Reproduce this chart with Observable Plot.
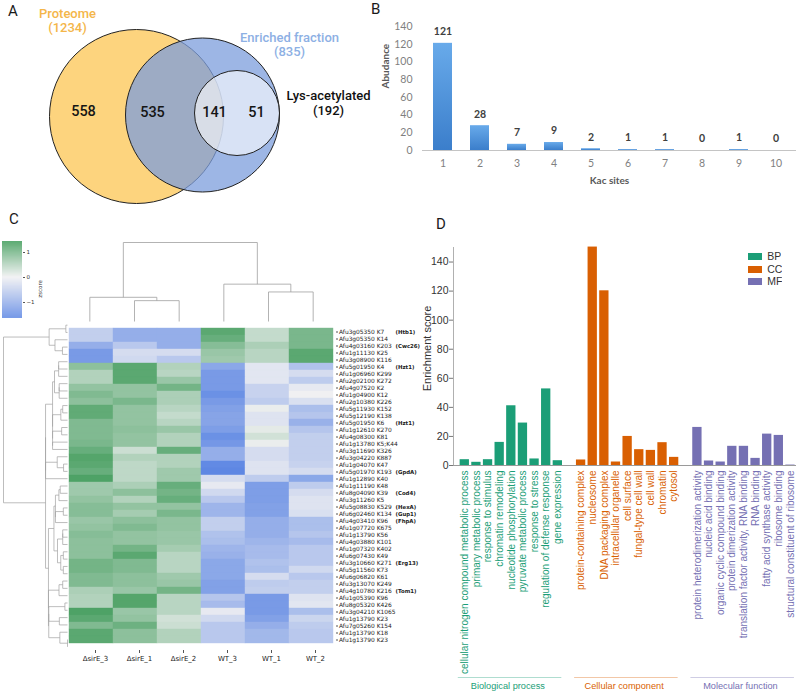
<!DOCTYPE html>
<html><head><meta charset="utf-8">
<script src="https://cdn.jsdelivr.net/npm/d3@7"></script>
<script src="https://cdn.jsdelivr.net/npm/@observablehq/plot@0.6"></script>
<style>
body{margin:0;background:#fff;}
#fig{position:relative;width:800px;height:692px;overflow:hidden;background:#fff;}
.letter{position:absolute;font-family:Roboto,sans-serif;font-size:15px;line-height:15px;color:#1a1a1a;}
</style></head><body><div id="fig"></div>
<script>
// ---------- Panel A data ----------
const vennSets = ["Proteome", "Enriched fraction", "Lys-acetylated"];
const vennTotals = [1234, 835, 192];
const vennRegionCounts = [558, 535, 141, 51];

// ---------- Panel B data ----------
const kacSites = ["1","2","3","4","5","6","7","8","9","10"];
const kacAbundance = [121, 28, 7, 9, 2, 1, 1, 0, 1, 0];

// ---------- Panel C data ----------
const samples = ["ΔsirE_3","ΔsirE_1","ΔsirE_2","WT_3","WT_1","WT_2"];
const sites = ["Afu3g05350 K7","Afu3g05350 K14","Afu4g03160 K203","Afu1g11130 K25","Afu3g08900 K116",
"Afu5g01950 K4","Afu1g06960 K299","Afu2g02100 K272","Afu4g07520 K2","Afu1g04900 K12","Afu2g10380 K226",
"Afu5g11930 K152","Afu5g12190 K138","Afu5g01950 K6","Afu1g12610 K270","Afu4g08300 K81","Afu1g13780 K5;K44",
"Afu3g11690 K326","Afu3g04220 K887","Afu1g04070 K47","Afu5g01970 K193","Afu1g12890 K40","Afu1g11190 K48",
"Afu8g04090 K39","Afu3g11260 K5","Afu5g08830 K529","Afu6g02460 K134","Afu4g03410 K96","Afu1g07720 K675",
"Afu1g13790 K56","Afu4g03880 K101","Afu1g07320 K402","Afu6g07430 K49","Afu3g10660 K271","Afu5g11560 K73",
"Afu6g06820 K61","Afu3g13070 K249","Afu4g10780 K216","Afu1g05390 K96","Afu8g05320 K426","Afu3g04210 K1065",
"Afu1g13790 K23","Afu7g05260 K154","Afu1g13790 K18","Afu1g13790 K23"];
const siteGenes = ["(Htb1)","","(Cwc26)","","","(Hzt1)","","","","","","","","(Hzt1)","","","","","","",
"(GpdA)","","","(Cod4)","","(HexA)","(Gup1)","(FhpA)","","","","","","(Erg13)","","","","(Tom1)","","","","","","",""];
const zRows = [
[-0.5,-1.0,-1.0, 1.2, 0.35, 0.95],
[-0.5,-1.0,-1.0, 1.1, 0.35, 0.95],
[-1.0,-0.6,-1.0, 0.85, 0.55,0.95],
[-1.3,-0.3,-0.3, 0.7, 0.45, 1.2],
[-1.3,-0.35,-0.6,0.65, 0.45, 1.2],
[0.8, 1.2, 0.5,-1.1,-0.15,-0.7],
[0.5, 1.2, 0.45,-1.3,-0.15,-0.3],
[0.5, 1.2, 0.7,-1.3,-0.15,-0.55],
[0.75,0.75,1.0,-1.3,-0.45,-0.1],
[0.9, 0.75,0.55,-1.45,-0.45,0.0],
[0.8, 0.95,0.55,-1.3,-0.55,-0.25],
[1.15,0.75,0.45,-1.2, 0.05,-0.75],
[1.15,0.75,0.35,-1.15,-0.2,-0.65],
[0.9, 0.75,0.45,-1.15,-0.2,-0.95],
[0.9, 0.8, 0.7,-1.25, 0.1,-0.65],
[0.9, 0.75,0.5,-1.45, 0.25,-0.5],
[0.95,0.75,0.5,-1.35, 0.05,-0.5],
[1.1, 0.3, 1.1,-1.0,-0.3,-0.5],
[1.25,0.5, 0.5,-1.0,-0.3,-0.5],
[1.2, 0.4, 0.5,-1.55,-0.2,-0.45],
[1.1, 0.4, 0.65,-1.6,-0.2,-0.3],
[1.3, 0.4, 0.65,-0.3,-0.55,-1.1],
[0.65,0.55,1.1,-0.1,-1.25,-0.55],
[0.65,0.8, 1.0,-0.35,-1.25,-0.3],
[0.75,0.5, 1.1,-0.6,-1.25,-0.2],
[0.85,0.75,0.75,-0.9,-1.2,-0.2],
[0.85,0.6, 0.95,-0.9,-1.2,-0.25],
[0.7, 0.8, 0.75,-0.5,-1.0,-0.75],
[0.75,0.9, 0.75,-0.5,-1.0,-0.75],
[0.85,0.75,0.7,-0.7,-1.0,-0.65],
[0.8, 0.75,0.7,-0.75,-0.9,-0.8],
[0.8, 1.0, 0.6,-0.9,-0.8,-0.6],
[0.8, 1.2, 0.45,-0.95,-0.8,-0.6],
[1.0, 0.9, 0.45,-1.1,-0.7,-0.6],
[1.0, 0.9, 0.45,-1.1,-0.75,-0.35],
[0.9, 0.8, 0.65,-1.1,-0.3,-0.6],
[0.9, 0.8, 0.7,-1.2,-0.55,-0.5],
[0.55,0.7, 1.0,-1.2,-0.5,-0.5],
[0.5, 1.25,0.45,-0.65,-1.3,-0.2],
[0.5, 1.25,0.45,-0.8,-1.3,-0.15],
[1.3, 0.7, 0.45,-0.1,-1.3,-0.75],
[1.2, 0.75,0.25,-0.35,-1.2,-0.4],
[0.9, 1.05,0.3,-0.6,-1.0,-0.55],
[1.2, 0.8, 0.5,-0.6,-0.85,-0.6],
[1.2, 0.8, 0.5,-0.6,-0.85,-0.6]
];
const zDomain = [-1.64, 0, 1.44];
const sampleTree = [[0,[1,2]],[3,[4,5]]];
const rowTree = [
  [[0,1],[2,[3,4]]],
  [
    [[[[[5,6],7],[[8,9],10]], [[[11,12],13],[[14,15],[16,17]]]], [[18,[19,20]],21]],
    [[[[[22,23],24],[[25,26],27]], [[[28,29],30],[[31,32],[33,34]]]], [[[35,36],37], [[[38,39],[40,41]],[42,[43,44]]]]]
  ]
];

// ---------- Panel D data ----------
const goGroups = ["BP","CC","MF"];
const goGroupNames = ["Biological process","Cellular component","Molecular function"];
const bpTerms = ["cellular nitrogen compound metabolic process","primary metabolic process","response to stimulus",
"chromatin remodeling","nucleotide phosphorylation","pyruvate metabolic process","response to stress",
"regulation of defense response","gene expression"];
const bpScores = [4.0, 2.2, 4.0, 15.9, 41.1, 29.2, 4.5, 52.7, 3.3];
const ccTerms = ["protein-containing complex","nucleosome","DNA packaging complex","intracellular organelle",
"cell surface","fungal-type cell wall","cell wall","chromatin","cytosol"];
const ccScores = [3.8, 150.3, 120.2, 2.4, 20.0, 10.9, 10.4, 15.7, 5.6];
const mfTerms = ["protein heterodimerization activity","nucleic acid binding","organic cyclic compound binding",
"protein dimerization activity","translation factor activity, RNA binding","RNA binding",
"fatty acid synthase activity","ribosome binding","structural constituent of ribosome"];
const mfScores = [26.2, 3.1, 2.4, 13.2, 13.2, 4.9, 21.6, 20.7, 0.3];

// ---------- layout / style ----------
const fig = document.getElementById("fig");
function place(node, left, top) {
  node.style.position = "absolute"; node.style.left = left + "px"; node.style.top = top + "px";
  fig.appendChild(node);
}
const base = {background: "transparent", overflow: "visible"};
const W = 800, H = 692;

// ---------- Panel A: Venn ----------
const vennGeom = [
  {cx: 136, cy: 116, r: 87, fill: "#fdd47e", opacity: 1},
  {cx: 202, cy: 114.5, r: 77, fill: "#7c9ddc", opacity: 0.75},
  {cx: 236.5, cy: 112.5, r: 42.5, fill: "#ffffff", opacity: 0.6}
];
const vennSetPos = [{x: 67, y: 20, c: "#f4b64a"}, {x: 289, y: 44, c: "#8db0e4"}, {x: 328, y: 102.5, c: "#111"}];
const vennCountPos = [{x: 83, y: 111}, {x: 152, y: 112}, {x: 214, y: 112}, {x: 256, y: 112}];
const setLabels = vennSets.map((s, i) => ({...vennSetPos[i], text: `${s}\n(${vennTotals[i]})`}));
const countLabels = vennRegionCounts.map((n, i) => ({...vennCountPos[i], text: String(n)}));
const venn = Plot.plot({
  width: 380, height: 210, margin: 0,
  x: {domain: [0, 380], range: [0, 380], axis: null},
  y: {domain: [0, 210], range: [0, 210], axis: null},
  style: {...base, fontFamily: "Roboto"},
  marks: [
    ...vennGeom.map(g => Plot.dot([g], {x: "cx", y: "cy", r: g.r, fill: g.fill, fillOpacity: g.opacity, stroke: "#222", strokeWidth: 1})),
    Plot.text(setLabels, {x: "x", y: "y", text: "text", fill: d => d.c, fontSize: 13, fontWeight: 500, lineHeight: 1.1}),
    Plot.text(countLabels, {x: "x", y: "y", text: "text", fill: "#151515", fontSize: 14.5, fontWeight: 500})
  ]
});
place(venn, 0, 0);

// ---------- Panel B: bars ----------
const kac = kacSites.map((s, i) => ({site: s, n: kacAbundance[i]}));
const gradDefs = () => {
  const defs = d3.create("svg:defs");
  const g = defs.append("linearGradient").attr("id", "kacGrad").attr("x1", 0).attr("y1", 0).attr("x2", 0).attr("y2", 1);
  g.append("stop").attr("offset", "0%").attr("stop-color", "#68aaea");
  g.append("stop").attr("offset", "100%").attr("stop-color", "#3b7ecb");
  return defs.node();
};
const bars = Plot.plot({
  width: 420, height: 200, marginLeft: 42, marginRight: 4, marginTop: 26, marginBottom: 50,
  x: {domain: kacSites, paddingInner: 0.5, paddingOuter: 0.25},
  y: {domain: [0, 140]},
  style: {...base, fontFamily: "Lato"},
  marks: [
    gradDefs,
    Plot.barY(kac, {x: "site", y: "n", fill: "url(#kacGrad)"}),
    Plot.ruleY([0], {stroke: "#c4c4c4"}),
    Plot.axisY({ticks: d3.range(0, 141, 20), tickSize: 0, tickPadding: 10, fill: "#7f7f7f", fontSize: 10.5, label: null}),
    Plot.axisX({tickSize: 0, tickPadding: 9, fill: "#7f7f7f", fontSize: 10.5, label: null}),
    Plot.text(kac, {x: "site", y: "n", text: d => String(d.n), dy: -11.5, fontWeight: "bold", fill: "#404040", fontSize: 10.5}),
    Plot.text(["Abudance"], {text: d => d, frameAnchor: "left", rotate: -90, dx: -37, fontWeight: "bold", fill: "#595959", fontSize: 10}),
    Plot.text(["Kac sites"], {text: d => d, frameAnchor: "bottom", dy: 33, fontWeight: "bold", fill: "#595959", fontSize: 10})
  ]
});
place(bars, 380, 0);

// ---------- Panel C: heatmap ----------
const zColor = {type: "linear", domain: zDomain, range: ["#5a84e3", "#f0f0f2", "#3d9a57"], interpolate: "rgb"};
const cells = [];
zRows.forEach((r, i) => r.forEach((z, j) => cells.push({row: i, sample: samples[j], z})));
const annots = siteGenes.map((g, i) => ({row: i, g})).filter(d => d.g);
const heat = Plot.plot({
  width: W, height: H, marginLeft: 67, marginRight: W - 335, marginTop: 321, marginBottom: H - 650,
  x: {domain: samples, padding: 0},
  y: {domain: d3.range(sites.length), padding: 0},
  color: zColor,
  style: {...base, fontFamily: "DejaVu Sans"},
  marks: [
    Plot.cell(cells, {x: "sample", y: "row", fill: "z", stroke: "z", strokeWidth: 0.4}),
    Plot.axisY({anchor: "right", tickFormat: i => sites[i], tickSize: 2, tickPadding: 1.5, fontSize: 5.9, fill: "#222", stroke: "#555", label: null}),
    Plot.axisX({anchor: "bottom", tickSize: 3, tickPadding: 3, fontSize: 7, fill: "#222", stroke: "#555", label: null, dx: 4}),
    Plot.text(annots, {y: "row", text: "g", frameAnchor: "right", dx: 60, textAnchor: "start", fontSize: 5.4, fontWeight: "bold", fill: "#222"})
  ]
});
place(heat, 0, 0);

// colour bar
const zSlices = d3.range(zDomain[0], zDomain[2], 0.02);
const cbar = Plot.plot({
  width: W, height: H, marginLeft: 2, marginRight: W - 22, marginTop: 241, marginBottom: H - 318,
  x: {domain: [0, 1], axis: null},
  y: {domain: [zDomain[0], zDomain[2]]},
  color: zColor,
  style: {...base, fontFamily: "DejaVu Sans"},
  marks: [
    Plot.rect(zSlices, {x1: 0, x2: 1, y1: d => d, y2: d => Math.min(d + 0.025, zDomain[2]), fill: d => d + 0.01}),
    Plot.axisY({anchor: "right", ticks: [-1, 0, 1], tickFormat: d => d < 0 ? "−" + Math.abs(d) : String(d), tickSize: 2, tickPadding: 2, fontSize: 5.5, fill: "#333", stroke: "#555", label: null}),
    Plot.text(["zscore"], {text: d => d, frameAnchor: "right", dx: 18, rotate: -90, fontSize: 5.5, fill: "#333"})
  ]
});
place(cbar, 0, 0);

// dendrograms (average linkage on the z-scores, for the tree shapes)
function dendro(tree, vecs) {
  const segs = [];
  const dist = (a, b) => Math.sqrt(d3.sum(a, (v, k) => (v - b[k]) ** 2));
  function walk(n) {
    if (typeof n === "number") return {leaves: [n], pos: n, h: 0};
    const L = walk(n[0]), R = walk(n[1]);
    let s = 0;
    for (const a of L.leaves) for (const b of R.leaves) s += dist(vecs[a], vecs[b]);
    const h = Math.max(s / (L.leaves.length * R.leaves.length), L.h, R.h);
    segs.push({p1: L.pos, h1: L.h, p2: L.pos, h2: h}, {p1: L.pos, h1: h, p2: R.pos, h2: h}, {p1: R.pos, h1: R.h, p2: R.pos, h2: h});
    return {leaves: [...L.leaves, ...R.leaves], pos: (L.pos + R.pos) / 2, h};
  }
  const root = walk(tree);
  return {segs, h: root.h};
}
const colD = dendro(sampleTree, samples.map((_, j) => zRows.map(r => r[j])));
const rowD = dendro(rowTree, zRows);
const colDendro = Plot.plot({
  width: W, height: H,
  x: {domain: [-0.5, samples.length - 0.5], range: [67, 335], axis: null},
  y: {domain: [0, colD.h], range: [321, 242], axis: null},
  style: base,
  marks: [Plot.link(colD.segs, {x1: "p1", y1: "h1", x2: "p2", y2: "h2", stroke: "#a0a0a0", strokeWidth: 0.8})]
});
place(colDendro, 0, 0);
const rowDendro = Plot.plot({
  width: W, height: H,
  x: {domain: [0, rowD.h], range: [67, 3], axis: null},
  y: {domain: [-0.5, sites.length - 0.5], range: [321, 650], axis: null},
  style: base,
  marks: [Plot.link(rowD.segs, {x1: "h1", y1: "p1", x2: "h2", y2: "p2", stroke: "#a0a0a0", strokeWidth: 0.7})]
});
place(rowDendro, 0, 0);

// ---------- Panel D: GO enrichment ----------
const goColors = ["#1b9e77", "#d95f02", "#7570b3"];
const goTerms = [bpTerms, ccTerms, mfTerms], goScores = [bpScores, ccScores, mfScores];
const enrich = [];
const groupSpans = [];
let slot = 0;
goGroups.forEach((g, gi) => {
  const start = slot;
  goTerms[gi].forEach((t, k) => { enrich.push({group: g, term: t, score: goScores[gi][k], slot}); slot++; });
  groupSpans.push({group: g, name: goGroupNames[gi], start, end: slot - 1});
  slot++; // empty slot between categories
});
const goFont = "'Liberation Sans', Arial, sans-serif";
const go = Plot.plot({
  width: W, height: H, marginLeft: 453, marginRight: 4, marginTop: 247, marginBottom: H - 465,
  x: {domain: [-0.97, 28.52], axis: null},
  y: {domain: [0, 150]},
  color: {domain: goGroups, range: goColors},
  style: {...base, fontFamily: goFont},
  marks: [
    Plot.rect(enrich, {x1: d => d.slot - 0.4, x2: d => d.slot + 0.4, y1: 0, y2: "score", fill: "group"}),
    Plot.ruleY([0], {stroke: "#9a9a9a"}),
    Plot.ruleX([-0.97], {y1: 0, y2: 150, stroke: "#b0b0b0"}),
    Plot.axisY({ticks: d3.range(0, 141, 20), tickSize: 4, tickPadding: 1, fontSize: 10.5, fill: "#333", stroke: "#777", label: null}),
    Plot.text(enrich, {x: "slot", y: 0, text: "term", rotate: -90, textAnchor: "end", lineAnchor: "middle", dy: 5, fill: "group", fontSize: 10}),
    Plot.link(groupSpans, {x1: d => d.start - 0.6, x2: d => d.end + 0.3, y1: 0, y2: 0, dy: 212, stroke: "group", strokeOpacity: 0.35}),
    Plot.text(groupSpans, {x: d => (d.start + d.end) / 2 - 0.3, y: 0, dy: 221, text: "name", fill: "group", fontSize: 9.2})
  ]
});
place(go, 0, 0);
// y-axis title of panel D, in its own small plot so its rotation is simple
const goTitle = Plot.plot({
  width: 24, height: 120, margin: 0,
  x: {domain: [0, 1], axis: null}, y: {domain: [0, 1], axis: null},
  style: {...base, fontFamily: goFont},
  marks: [Plot.text(["Enrichment score"], {text: d => d, frameAnchor: "middle", rotate: -90, fontSize: 11, fill: "#333"})]
});
place(goTitle, 415, 288);
const legend = Plot.legend({
  color: {domain: goGroups, range: goColors}, legend: "swatches", columns: 1,
  swatchWidth: 14, swatchHeight: 7,
  style: {fontFamily: goFont, fontSize: "10.5px", lineHeight: "11.5px", color: "#333", background: "transparent", width: "48px"}
});
place(legend, 748, 251);

// ---------- panel letters ----------
[["A", 8, 4], ["B", 371, 2], ["C", 9, 212], ["D", 436, 217]].forEach(([t, x, y]) => {
  const d = document.createElement("div"); d.className = "letter"; d.textContent = t;
  d.style.left = x + "px"; d.style.top = y + "px"; fig.appendChild(d);
});
</script></body></html>
